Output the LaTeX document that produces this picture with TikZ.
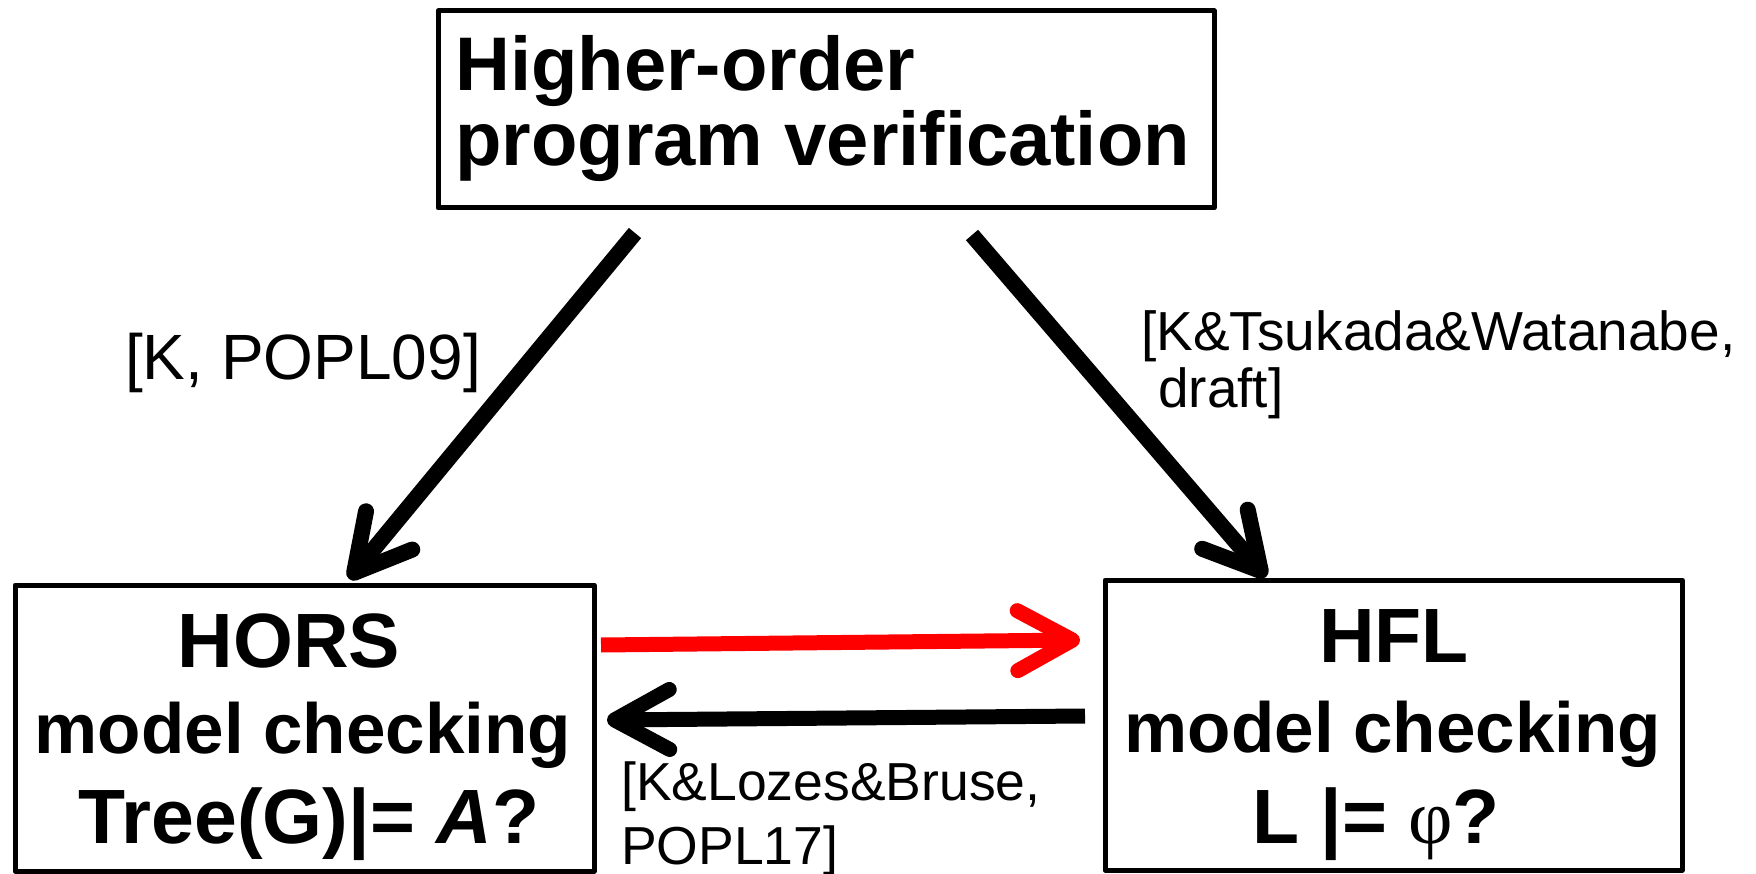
\documentclass[tikz,border=0pt]{standalone}
\usepackage{fontspec}
\setmainfont{Liberation Sans}
\newfontfamily\phifont{Liberation Serif}
\usetikzlibrary{arrows.meta}
\begin{document}
\begin{tikzpicture}[x=1pt,y=-1pt,
  box/.style={draw, line width=5pt, line join=round, inner sep=0pt, outer sep=0pt},
  boxtext/.style={font=\bfseries\fontsize{71}{71}\selectfont, inner sep=0pt, anchor=base},
  bigtext/.style={boxtext, font=\bfseries\fontsize{77}{77}\selectfont},
  toptext/.style={font=\bfseries\fontsize{76}{76}\selectfont, inner sep=0pt, anchor=base west},
  ref/.style={inner sep=0pt, anchor=base west},
  conn/.style={line width=15pt, -{Straight Barb[round, length=55pt, width=60pt]}},
  diag/.style={conn, line width=16pt}
]
\useasboundingbox (0,0) rectangle (1756,874);

% boxes
\node[box, minimum width=776pt, minimum height=197pt] (top) at (826,109.5) {};
\node[box, minimum width=579pt, minimum height=286pt] (hors) at (304.5,728) {};
\node[box, minimum width=577pt, minimum height=290pt] (hfl) at (1393.5,725) {};

% box texts
\node[toptext] (t1) at (455,91) {Higher-order};
\node[toptext] (t2) at (455,166) {program verification};

\node[bigtext] (a1) at (289,667) {HORS};
\node[boxtext] (a2) at (303,753) {model checking};
\node[bigtext] (a3) at (309,843) {Tree(G)|= \textit{A}?};

\node[bigtext] (b1) at (1394,662) {HFL};
\node[boxtext] (b2) at (1393,752) {model checking};
\node[bigtext] (b3) at (1376,843) {L |= {\phifont\mdseries φ}?};

% connector end points
\coordinate (l0) at (635,233);
\coordinate (l1) at (349,579);
\coordinate (r0) at (972,235);
\coordinate (r1) at (1266,577);
\coordinate (h0) at (601,645);
\coordinate (h1) at (1080,640);
\coordinate (k0) at (1085,716);
\coordinate (k1) at (607,720);

\draw[diag] (l0) -- (l1);
\draw[diag] (r0) -- (r1);
\draw[conn, red] (h0) -- (h1);
\draw[conn] (k0) -- (k1);

% references
\node[ref, font=\fontsize{64}{64}\selectfont] (c1) at (125,380) {[K, POPL09]};
\node[ref, font=\fontsize{55}{55}\selectfont] (c2) at (1141,351) {[K\&Tsukada\&Watanabe,};
\node[ref, font=\fontsize{55}{55}\selectfont] (c3) at (1158,407) {draft]};
\node[ref, font=\fontsize{53.5}{53.5}\selectfont] (c4) at (621,800) {[K\&Lozes\&Bruse,};
\node[ref, font=\fontsize{53.5}{53.5}\selectfont] (c5) at (621,864) {POPL17]};
\end{tikzpicture}
\end{document}
